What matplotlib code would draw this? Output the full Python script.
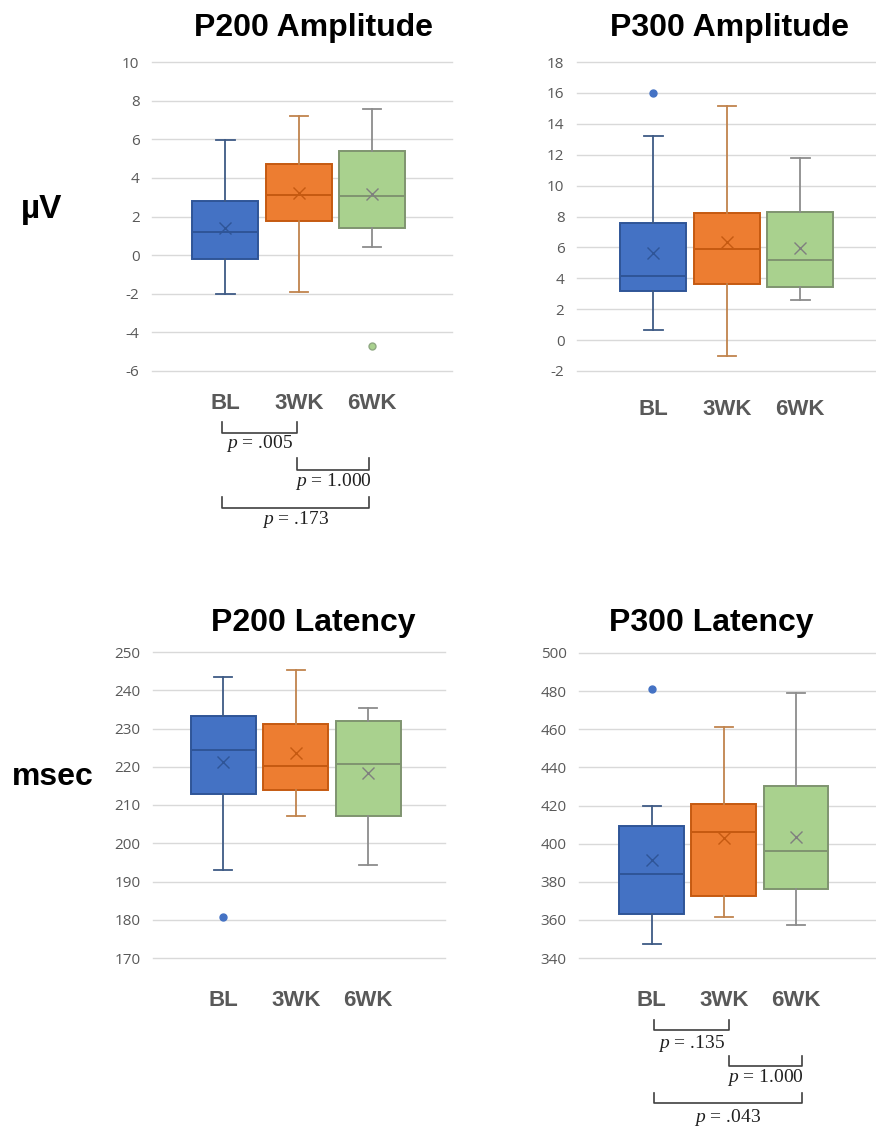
import matplotlib
matplotlib.use("Agg")
import matplotlib.pyplot as plt
from matplotlib.transforms import blended_transform_factory

plt.rcParams['mathtext.fontset'] = 'custom'
plt.rcParams['mathtext.it'] = 'Liberation Serif:italic'
plt.rcParams['mathtext.rm'] = 'Liberation Serif'

groups = ["BL", "3WK", "6WK"]

# P200 Amplitude (uV)
amp200_lo = [-2.0, -1.93, 0.43]
amp200_q1 = [-0.2, 1.78, 1.41]
amp200_med = [1.2, 3.1, 3.05]
amp200_q3 = [2.81, 4.71, 5.40]
amp200_hi = [5.98, 7.22, 7.57]
amp200_mean = [1.43, 3.22, 3.16]
amp200_out = [[], [], [-4.72]]

# P300 Amplitude (uV)
amp300_lo = [0.63, -1.03, 2.57]
amp300_q1 = [3.17, 3.60, 3.43]
amp300_med = [4.14, 5.87, 5.18]
amp300_q3 = [7.61, 8.22, 8.30]
amp300_hi = [13.2, 15.13, 11.81]
amp300_mean = [5.61, 6.34, 5.95]
amp300_out = [[16.0], [], []]

# P200 Latency (msec)
lat200_lo = [193.1, 207.2, 194.2]
lat200_q1 = [212.9, 213.9, 207.2]
lat200_med = [224.5, 220.3, 220.6]
lat200_q3 = [233.2, 231.1, 231.9]
lat200_hi = [243.5, 245.3, 235.3]
lat200_mean = [221.3, 223.5, 218.4]
lat200_out = [[180.7], [], []]

# P300 Latency (msec)
lat300_lo = [347.5, 361.6, 357.2]
lat300_q1 = [363.0, 372.3, 376.4]
lat300_med = [384.3, 406.1, 396.3]
lat300_q3 = [409.4, 420.9, 430.2]
lat300_hi = [419.5, 461.3, 479.1]
lat300_mean = [391.4, 403.1, 403.3]
lat300_out = [[481.0], [], []]

# Pairwise comparisons
amp200_pairs = [(0, 1), (1, 2), (0, 2)]
amp200_p = [".005", "1.000", ".173"]
lat300_pairs = [(0, 1), (1, 2), (0, 2)]
lat300_p = [".135", "1.000", ".043"]

fill_colors = ["#4472C4", "#ED7D31", "#A9D18E"]
edge_colors = ["#2F5597", "#C55A11", "#7F9470"]
whisk_colors = ["#3E5A85", "#C0834D", "#8C8C8C"]
mean_colors = ["#2F5597", "#C55A11", "#7F7F7F"]
flier_face = ["#4472C4", "#ED7D31", "#A9D18E"]
flier_edge = ["#4472C4", "#ED7D31", "#8FA882"]

W, H = 876, 1128
fig = plt.figure(figsize=(W / 100, H / 100), dpi=100)


def fy(py):
    return 1 - py / H


def make_axes(left, right, top, bottom):
    return fig.add_axes([left / W, 1 - bottom / H, (right - left) / W, (bottom - top) / H])


def draw_panel(ax, lo, q1, med, q3, hi, mean, out, ylim, yticks, xlim):
    for i in range(3):
        st = [dict(med=med[i], q1=q1[i], q3=q3[i], whislo=lo[i], whishi=hi[i],
                   mean=mean[i], fliers=out[i])]
        ax.bxp(st, positions=[i + 1], widths=0.9, capwidths=0.25, patch_artist=True,
               showmeans=True,
               boxprops=dict(facecolor=fill_colors[i], edgecolor=edge_colors[i], linewidth=1.4),
               medianprops=dict(color=edge_colors[i], linewidth=1.4),
               whiskerprops=dict(color=whisk_colors[i], linewidth=1.3),
               capprops=dict(color=whisk_colors[i], linewidth=1.3),
               meanprops=dict(marker='x', markeredgecolor=mean_colors[i], markersize=8,
                              markeredgewidth=1.0),
               flierprops=dict(marker='o', markerfacecolor=flier_face[i],
                               markeredgecolor=flier_edge[i], markersize=5))
    ax.set_ylim(*ylim)
    ax.set_xlim(*xlim)
    ax.set_yticks(yticks)
    ax.set_yticklabels([str(t) for t in yticks], fontsize=11, color="#595959",
                       family="Open Sans")
    ax.set_xticks([])
    ax.tick_params(axis='y', length=0, pad=9)
    ax.yaxis.grid(True, color="#D9D9D9", linewidth=1.0)
    for gl in ax.get_ygridlines():
        gl.set_clip_on(False)
    ax.set_axisbelow(True)
    for s in ax.spines.values():
        s.set_visible(False)


def cat_labels(ax, py):
    tr = blended_transform_factory(ax.transData, fig.transFigure)
    for i, g in enumerate(groups):
        ax.text(i + 1, fy(py), g, transform=tr, ha='center', va='baseline', fontsize=16,
                fontweight='bold', color="#595959", family="Liberation Sans", clip_on=False)


def brackets(ax, pairs, pvals, tops, bottoms, texty, xs):
    tr = blended_transform_factory(ax.transData, fig.transFigure)
    for (a, b), p, t, bt, ty in zip(pairs, pvals, tops, bottoms, texty):
        xa, xb = xs[a], xs[b]
        ax.plot([xa, xa, xb, xb], [fy(t), fy(bt), fy(bt), fy(t)], transform=tr,
                color="#404040", linewidth=1.2, clip_on=False)
        ax.text((xa + xb) / 2, fy(ty), r"$p$ = " + p, transform=tr, ha='center',
                va='center', fontsize=14, family="Liberation Serif", color="#202020",
                clip_on=False)


ax1 = make_axes(152, 452, 62, 371)
draw_panel(ax1, amp200_lo, amp200_q1, amp200_med, amp200_q3, amp200_hi, amp200_mean,
           amp200_out, (-6, 10), list(range(-6, 11, 2)), (0.0, 4.09))
ax2 = make_axes(577, 876, 62, 371)
draw_panel(ax2, amp300_lo, amp300_q1, amp300_med, amp300_q3, amp300_hi, amp300_mean,
           amp300_out, (-2, 18), list(range(-2, 19, 2)), (-0.04, 4.03))
ax3 = make_axes(153, 445, 652, 958)
draw_panel(ax3, lat200_lo, lat200_q1, lat200_med, lat200_q3, lat200_hi, lat200_mean,
           lat200_out, (170, 250), list(range(170, 251, 10)), (0.03, 4.06))
ax4 = make_axes(579, 876, 653, 958)
draw_panel(ax4, lat300_lo, lat300_q1, lat300_med, lat300_q3, lat300_hi, lat300_mean,
           lat300_out, (340, 500), list(range(340, 501, 20)), (-0.01, 4.11))

titles = [("P200 Amplitude", 313, 36), ("P300 Amplitude", 730, 36),
          ("P200 Latency", 313, 631), ("P300 Latency", 711, 631)]
for t, x, y in titles:
    fig.text(x / W, fy(y), t, ha='center', va='baseline', fontsize=23, fontweight='bold',
             family="Liberation Sans")

fig.text(42 / W, fy(218), "µV", ha='center', va='baseline', fontsize=24, fontweight='bold',
         family="Liberation Sans")
fig.text(53 / W, fy(785), "msec", ha='center', va='baseline', fontsize=23,
         fontweight='bold', family="Liberation Sans")

cat_labels(ax1, 409)
cat_labels(ax2, 415)
cat_labels(ax3, 1006)
cat_labels(ax4, 1006)

brackets(ax1, amp200_pairs, amp200_p, [422, 458, 497], [433, 470, 508], [444, 482, 519],
         [0.96, 1.98, 2.96])
brackets(ax4, lat300_pairs, lat300_p, [1020, 1056, 1093], [1030, 1066, 1103],
         [1044, 1078, 1117], [1.03, 2.07, 3.08])

fig.savefig("out.png", dpi=100, facecolor="white")
